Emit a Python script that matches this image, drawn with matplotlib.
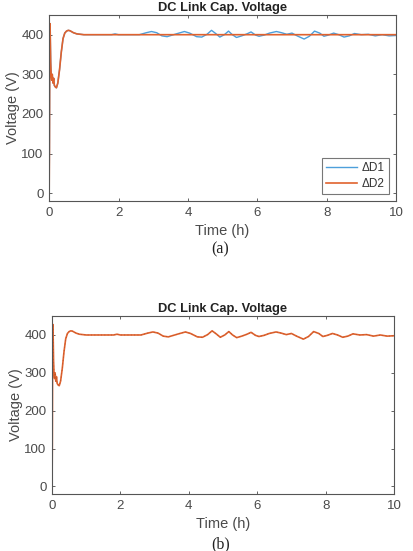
import matplotlib
matplotlib.use('Agg')
import matplotlib.pyplot as plt

# Dados (tempo em horas, tensao em V)
t_start = [0, 0.008, 0.015, 0.022, 0.03, 0.045, 0.06, 0.075, 0.09, 0.11, 0.13, 0.15,
           0.18, 0.21, 0.25, 0.3, 0.35, 0.4, 0.45, 0.5, 0.55, 0.6, 0.7, 0.8, 0.9, 1.0]
v_start = [0, 110, 300, 428, 410, 330, 295, 285, 300, 278, 290, 272,
           268, 266, 278, 312, 356, 390, 404, 409, 411, 410, 405, 402, 401, 400]

t_osc = [1.5, 1.8, 1.9, 2.0, 2.6, 2.8, 2.95, 3.1, 3.25, 3.4, 3.55, 3.7, 3.9, 4.05,
         4.25, 4.4, 4.55, 4.68, 4.8, 4.92, 5.05, 5.17, 5.28, 5.4, 5.55, 5.7, 5.82,
         5.95, 6.05, 6.2, 6.35, 6.55, 6.7, 6.85, 7.0, 7.15, 7.35, 7.5, 7.65, 7.8,
         7.92, 8.05, 8.2, 8.35, 8.5, 8.65, 8.8, 9.0, 9.2, 9.4, 9.6, 9.8, 10.0]
v_d1 = [400, 400, 402, 400, 400, 405, 408, 405, 397, 395, 399, 403, 408, 404,
        395, 394, 401, 411, 403, 394, 400, 409, 400, 393, 397, 402, 407,
        399, 396, 399, 404, 408, 405, 401, 404, 397, 389, 396, 409, 404,
        396, 399, 404, 400, 394, 397, 403, 400, 401, 397, 400, 397, 398]
t_flat = [1.5, 10.0]
v_d2 = [400, 400]

tempo_d1 = t_start + t_osc
tensao_d1 = v_start + v_d1
tempo_d2 = t_start + t_flat
tensao_d2 = v_start + v_d2

azul = '#4d9fdb'
laranja = '#e0622e'
cinza = '#4a4a4a'

plt.rcParams['font.family'] = ['Liberation Sans', 'DejaVu Sans']

fig = plt.figure(figsize=(4.13, 5.51), dpi=100)
ax1 = fig.add_axes([0.119, 0.635, 0.840, 0.338])
ax2 = fig.add_axes([0.126, 0.1034, 0.828, 0.323])


def formatar(ax):
    ax.set_xlim(0, 10)
    ax.set_ylim(-20, 450)
    ax.set_xticks([0, 2, 4, 6, 8, 10])
    ax.set_yticks([0, 100, 200, 300, 400])
    ax.tick_params(direction='in', length=2.5, width=0.6, colors=cinza,
                   labelsize=9.5, top=True, right=True, pad=4)
    for s in ax.spines.values():
        s.set_color('#555555')
        s.set_linewidth(0.8)
    ax.set_title('DC Link Cap. Voltage', fontsize=9.3, fontweight='bold',
                 color='#222222', pad=3)
    ax.set_xlabel('Time (h)', fontsize=10.5, color=cinza, labelpad=4)
    ax.set_ylabel('Voltage (V)', fontsize=10.5, color=cinza, labelpad=1)


# Painel (a)
ax1.plot(tempo_d1, tensao_d1, color=azul, lw=1.0, label='ΔD1')
ax1.plot(tempo_d2, tensao_d2, color=laranja, lw=1.2, label='ΔD2')
formatar(ax1)
leg = ax1.legend(loc='lower right', fontsize=8.5, frameon=True, fancybox=False,
                 edgecolor='#555555', handlelength=2.6, borderpad=0.35,
                 labelspacing=0.35, handletextpad=0.4, borderaxespad=0.6)
leg.get_frame().set_linewidth(0.8)
for txt in leg.get_texts():
    txt.set_color('#333333')

# Painel (b)
ax2.plot(tempo_d1, tensao_d1, color=laranja, lw=1.2)
ax2.plot(tempo_d1, tensao_d1, color='#b5542a', lw=0.6, ls=(0, (1, 3)))
formatar(ax2)

fig.text(0.533, 1 - 249 / 551, '(a)', ha='center', va='center', fontsize=11.5,
         family='Liberation Serif', color='#222222')
fig.text(0.533, 1 - 544 / 551, '(b)', ha='center', va='center', fontsize=11.5,
         family='Liberation Serif', color='#222222')

fig.savefig('out.png', dpi=100)
